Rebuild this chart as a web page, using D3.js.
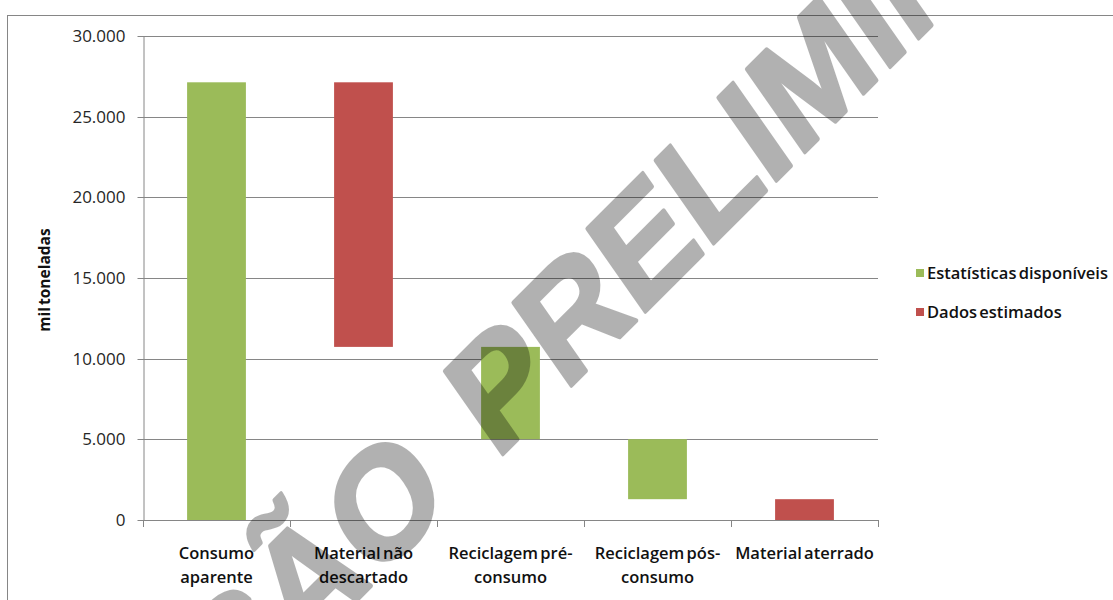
<!DOCTYPE html>
<html>
<head>
<meta charset="utf-8">
<script src="https://cdn.jsdelivr.net/npm/d3@7"></script>
<style>
  html, body { margin: 0; padding: 0; background: #ffffff; }
  svg { display: block; }
</style>
</head>
<body>
<svg id="chart" width="1113" height="600"></svg>
<script>
// Waterfall of material flow (thousand tonnes)
const categories = ["Consumo\naparente", "Material não\ndescartado", "Reciclagem pré-\nconsumo", "Reciclagem pós-\nconsumo", "Material aterrado"];
const baseValues = [0, 10730, 5010, 1290, 0];          // invisible offset of each step
const statisticsValues = [27130, 0, 5720, 3720, 0];    // "Estatísticas disponíveis"
const estimatedValues = [0, 16400, 0, 0, 1290];        // "Dados estimados"
const yTicks = [0, 5000, 10000, 15000, 20000, 25000, 30000];
const seriesNames = ["Estatísticas disponíveis", "Dados estimados"];
const seriesColors = ["#9bbb59", "#c0504d"];
const yAxisTitle = "mil toneladas";
const watermarkWords = ["VERSÃO", "PRELIMINAR"];

const svg = d3.select("#chart");
const W = 1113, H = 600;
const plot = { left: 143, right: 878, top: 36, bottom: 520 };
const lineColor = "#868686";
const textFont = "'Open Sans', 'Liberation Sans', sans-serif";

const ptBR = d3.formatLocale({ decimal: ",", thousands: ".", grouping: [3], currency: ["", ""] });
const fmt = ptBR.format(",d");

svg.append("rect").attr("width", W).attr("height", H).attr("fill", "#ffffff");

// outer chart frame
svg.append("rect")
  .attr("x", 7.5).attr("y", 15.5)
  .attr("width", W + 20).attr("height", H + 20)
  .attr("fill", "none").attr("stroke", lineColor).attr("stroke-width", 1);

const x = d3.scaleBand()
  .domain(d3.range(categories.length))
  .range([plot.left, plot.right])
  .padding(0);

const y = d3.scaleLinear()
  .domain([0, 30000])
  .range([plot.bottom, plot.top]);

// horizontal gridlines
svg.append("g")
  .selectAll("line")
  .data(yTicks.filter(d => d > 0))
  .join("line")
  .attr("x1", plot.left).attr("x2", plot.right)
  .attr("y1", d => Math.round(y(d)) + 0.5).attr("y2", d => Math.round(y(d)) + 0.5)
  .attr("stroke", lineColor).attr("stroke-width", 1);

// y axis
const yAxis = d3.axisLeft(y)
  .tickValues(yTicks)
  .tickSize(6)
  .tickSizeOuter(0)
  .tickPadding(12)
  .tickFormat(d => fmt(d));

const gy = svg.append("g")
  .attr("transform", `translate(${plot.left + 0.5},0)`)
  .call(yAxis);
gy.select(".domain").attr("stroke", lineColor);
gy.selectAll(".tick line").attr("stroke", lineColor);
gy.selectAll(".tick").attr("transform", d => `translate(0,${Math.round(y(d)) + 0.5})`);
gy.selectAll(".tick text")
  .attr("fill", "#262626")
  .style("font-family", textFont)
  .style("font-size", "17px");

// bars: stacked on an invisible base, as a waterfall
const stacks = categories.map((c, i) => {
  const b = baseValues[i];
  const s = statisticsValues[i];
  const e = estimatedValues[i];
  return [
    { i, y0: b, y1: b + s, series: 0 },
    { i, y0: b + s, y1: b + s + e, series: 1 }
  ];
}).flat().filter(d => d.y1 > d.y0);

const barW = x.bandwidth() / 2.5;
svg.append("g")
  .selectAll("rect")
  .data(stacks)
  .join("rect")
  .attr("x", d => x(d.i) + (x.bandwidth() - barW) / 2)
  .attr("width", barW)
  .attr("y", d => y(d.y1))
  .attr("height", d => y(d.y0) - y(d.y1))
  .attr("fill", d => seriesColors[d.series]);

// x axis with ticks between categories
const gx = svg.append("g");
gx.append("line")
  .attr("x1", plot.left).attr("x2", plot.right)
  .attr("y1", plot.bottom + 0.5).attr("y2", plot.bottom + 0.5)
  .attr("stroke", lineColor);
const bounds = x.domain().map(d => x(d)).concat([plot.right]);
gx.selectAll("line.tick")
  .data(bounds)
  .join("line")
  .attr("class", "tick")
  .attr("x1", d => Math.round(d) + 0.5).attr("x2", d => Math.round(d) + 0.5)
  .attr("y1", plot.bottom).attr("y2", plot.bottom + 7)
  .attr("stroke", lineColor);

// category labels (two lines)
const labels = svg.append("g")
  .selectAll("text")
  .data(categories)
  .join("text")
  .attr("text-anchor", "middle")
  .attr("fill", "#111111")
  .style("font-family", textFont)
  .style("font-weight", 600)
  .style("font-size", "16.5px")
  .style("word-spacing", "-2px");
labels.each(function(c, i) {
  const t = d3.select(this);
  c.split("\n").forEach((line, k) => {
    t.append("tspan")
      .attr("x", x(i) + x.bandwidth() / 2)
      .attr("y", 559 + k * 24)
      .text(line);
  });
});

// y axis title
svg.append("text")
  .attr("transform", "translate(50,280) rotate(-90)")
  .attr("text-anchor", "middle")
  .attr("fill", "#111111")
  .style("font-family", textFont)
  .style("font-weight", 700)
  .style("font-size", "15.5px")
  .style("word-spacing", "-2px")
  .text(yAxisTitle);

// legend
const legend = svg.append("g")
  .selectAll("g")
  .data(seriesNames)
  .join("g")
  .attr("transform", (d, i) => `translate(916,${273 + i * 39})`);
legend.append("rect")
  .attr("x", 0).attr("y", -4)
  .attr("width", 8).attr("height", 8)
  .attr("fill", (d, i) => seriesColors[i]);
legend.append("text")
  .attr("x", 11).attr("y", 0)
  .attr("dy", "0.35em")
  .attr("fill", "#111111")
  .style("font-family", textFont)
  .style("font-weight", 600)
  .style("font-size", "16.5px")
  .style("word-spacing", "-2px")
  .text(d => d);

// diagonal draft stamp over the plot
const wm = svg.append("g")
  .attr("transform", "translate(496,461) rotate(-45) skewX(-10)")
  .attr("opacity", 0.3);
wm.append("text")
  .attr("x", 0).attr("y", 0)
  .text(watermarkWords[1]);
wm.append("text")
  .attr("x", -60).attr("y", 0)
  .attr("text-anchor", "end")
  .text(watermarkWords[0]);
wm.selectAll("text")
  .attr("fill", "#000000")
  .attr("stroke", "#000000")
  .attr("stroke-width", 4)
  .attr("stroke-linejoin", "round")
  .style("font-family", "'Liberation Sans', Arial, sans-serif")
  .style("font-weight", 700)
  .style("font-size", "145px");
</script>
</body>
</html>
